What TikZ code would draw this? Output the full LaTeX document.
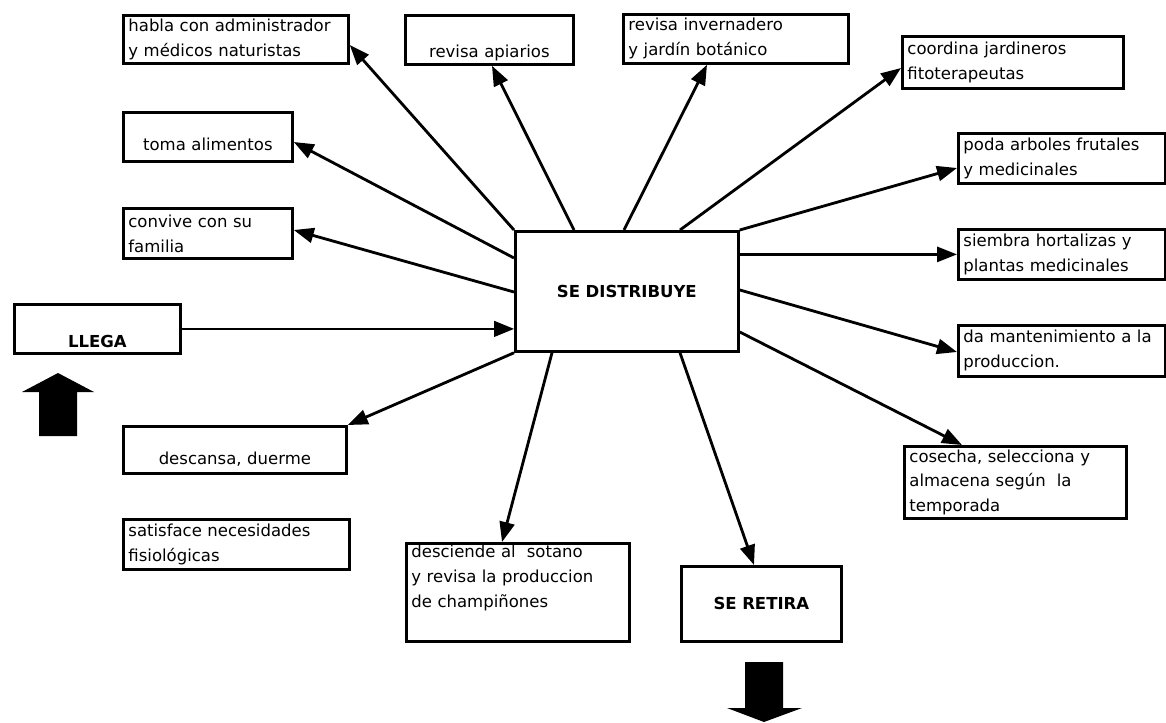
\documentclass[tikz,border=0pt]{standalone}
\usepackage{fontspec}
\setmainfont{DejaVu Sans}
\usetikzlibrary{arrows.meta}

\begin{document}
\begin{tikzpicture}[x=0.02cm, y=-0.02cm,
    box/.style={draw, line width=1.6pt, inner xsep=0.1cm, inner ysep=0pt, anchor=north west,
      align=left, font=\fontsize{9.4}{14.2}\selectfont},
    midbox/.style={box, align=center},
    titlebox/.style={box, align=center, font=\fontsize{9.4}{14.2}\selectfont\bfseries},
    arr/.style={line width=1.6pt, -{Triangle[length=0.4cm, width=0.3cm]}},
    thinarr/.style={line width=0.8pt, -{Triangle[length=0.4cm, width=0.32cm]}}]
  \useasboundingbox (0,0) rectangle (1166,723);

  % left column
  \node[box, text width=4.3cm, minimum height=0.96cm] (habla) at (122,14)
    {habla con administrador\\y médicos naturistas};
  \node[midbox, text width=3.18cm, minimum height=0.98cm] (toma) at (122,111)
    {\rule{0pt}{16pt}toma alimentos};
  \node[box, text width=3.18cm, minimum height=1.0cm] (convive) at (122,207)
    {convive con su\\familia};
  \node[titlebox, text width=3.12cm, minimum height=0.98cm] (llega) at (13,303)
    {\rule{0pt}{21pt}LLEGA};
  \node[midbox, text width=4.26cm, minimum height=0.94cm] (descansa) at (122,425)
    {\rule{0pt}{18pt}descansa, duerme};
  \node[box, text width=4.32cm, minimum height=1.0cm] (satisface) at (122,518)
    {satisface necesidades\\fisiológicas};

  % top row
  \node[midbox, text width=3.16cm, minimum height=0.98cm] (apiarios) at (404,14)
    {\rule{0pt}{22pt}revisa apiarios};
  \node[box, text width=4.3cm, minimum height=0.98cm] (invern) at (622,13)
    {revisa invernadero\\y jardín botánico};
  \node[box, text width=4.22cm, minimum height=1.04cm] (coordina) at (901,35)
    {coordina jardineros\\fitoterapeutas};

  % right column
  \node[box, text width=3.94cm, minimum height=1.0cm] (poda) at (957,132)
    {poda arboles frutales\\y medicinales};
  \node[box, text width=3.94cm, minimum height=1.0cm] (siembra) at (957,228)
    {siembra hortalizas y\\plantas medicinales};
  \node[box, text width=3.94cm, minimum height=1.02cm] (mant) at (957,324)
    {da mantenimiento a la\\produccion.};
  \node[box, text width=4.24cm, minimum height=1.44cm] (cosecha) at (903,445)
    {cosecha, selecciona y\\almacena según\ \ la\\temporada};

  % centre and bottom
  \node[titlebox, text width=4.26cm, minimum height=2.4cm] (dist) at (514,230) {SE DISTRIBUYE};
  \node[box, text width=4.26cm, minimum height=1.96cm] (desciende) at (405,542)
    {desciende al\ \ sotano\\y revisa la produccion\\de champiñones\\\strut};
  \node[titlebox, text width=3.0cm, minimum height=1.5cm] (retira) at (680,565) {SE RETIRA};

  \draw[thinarr] (llega.east) -- (llega.east -| dist.west);

  \draw[arr] (dist.north west) -- (habla.east |- 0,45);
  \draw[arr] (574,0 |- dist.north) -- (492,0 |- apiarios.south);
  \draw[arr] (624,0 |- dist.north) -- (707,0 |- invern.south);
  \draw[arr] (680,0 |- dist.north) -- (coordina.west |- 0,68);
  \draw[arr] (dist.north east) -- (poda.west |- 0,168);
  \draw[arr] (dist.east |- siembra.west) -- (siembra.west);
  \draw[arr] (dist.east |- 0,290) -- (mant.west |- 0,352);
  \draw[arr] (dist.east |- 0,332) -- (962,0 |- cosecha.north);
  \draw[arr] (680,0 |- dist.south) -- (754,0 |- retira.north);
  \draw[arr] (552,0 |- dist.south) -- (502,0 |- desciende.north);
  \draw[arr] (dist.south west) -- (descansa.north east);
  \draw[arr] (dist.west |- 0,258) -- (toma.east |- 0,142);
  \draw[arr] (dist.west |- 0,292) -- (convive.east |- 0,230);

  % block arrows
  \fill (39,436) -- (39,392) -- (22,392) -- (58,373) -- (94,392) -- (77,392) -- (77,436) -- cycle;
  \fill (745,662) -- (783,662) -- (783,708) -- (802,708) -- (764,722) -- (727,708) -- (745,708) -- cycle;
\end{tikzpicture}
\end{document}
